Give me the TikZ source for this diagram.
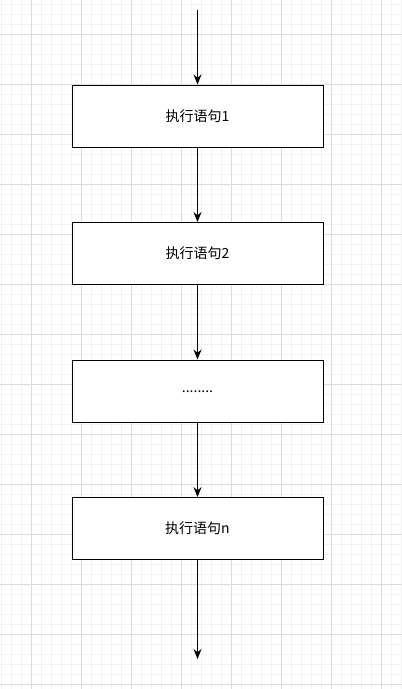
\documentclass[tikz,border=0pt]{standalone}
\usepackage{fontspec}
\newfontfamily\cjk{Noto Sans CJK SC}
\usetikzlibrary{positioning, arrows.meta}
\begin{document}
\begin{tikzpicture}[x=0.75pt, y=-0.75pt, -{Stealth[length=7.5pt, width=6pt]}, line width=0.9pt, node distance=55.9pt]
\tikzset{every node/.style={font=\cjk\fontsize{10.5}{12}\selectfont}}
\tikzset{stmt/.style={draw, fill=white, line width=0.75pt, minimum width=188.25pt, minimum height=46.5pt, inner sep=0pt}}
\useasboundingbox (0,0) rectangle (402,689);
% grid
\foreach \x in {1,11,...,401} \draw[-, black!5, line width=0.75pt] (\x,0) -- (\x,689);
\foreach \y in {4,14,...,684} \draw[-, black!5, line width=0.75pt] (0,\y) -- (402,\y);
\foreach \x in {31,81,...,381} \draw[-, black!14, line width=0.75pt] (\x,0) -- (\x,689);
\foreach \y in {34,84,...,684} \draw[-, black!14, line width=0.75pt] (0,\y) -- (402,\y);
% statements
\node[stmt] (s1) at (197.5,116) {执行语句1};
\node[stmt, below=of s1] (s2) {执行语句2};
\node[stmt, below=of s2] (s3) {\raisebox{-3pt}{........}};
\node[stmt, below=of s3] (sn) {执行语句n};
\coordinate (start) at (197.5,10);
\coordinate (end) at (197.5,659);
\path (start) edge (s1);
\path (s1) edge (s2);
\path (s2) edge (s3);
\path (s3) edge (sn);
\path (sn) edge (end);
\end{tikzpicture}
\end{document}
